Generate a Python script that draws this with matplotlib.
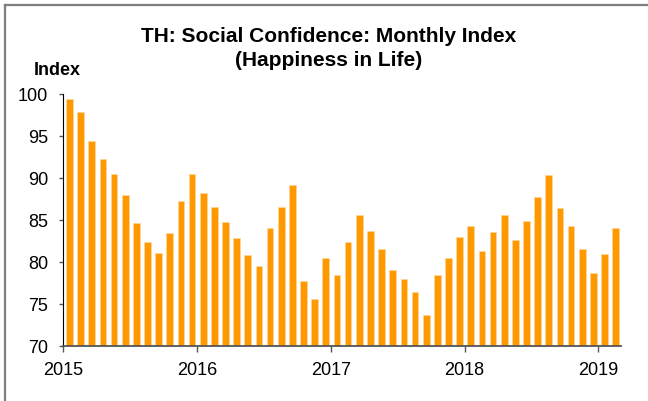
import matplotlib
matplotlib.use("Agg")
import matplotlib.pyplot as plt
from matplotlib.lines import Line2D
import numpy as np

plt.rcParams['font.family'] = ['Liberation Sans', 'DejaVu Sans']

years = ["2015", "2016", "2017", "2018", "2019"]
index_values = [
    99.4, 97.9, 94.4, 92.3, 90.5, 88.0, 84.6, 82.4, 81.1, 83.5, 87.3, 90.5,
    88.2, 86.5, 84.8, 82.9, 80.8, 79.5, 84.1, 86.5, 89.2, 77.7, 75.6, 80.5,
    78.5, 82.4, 85.6, 83.7, 81.6, 79.1, 78.0, 76.4, 73.7, 78.4, 80.5, 83.0,
    84.3, 81.3, 83.6, 85.6, 82.6, 84.9, 87.7, 90.3, 86.4, 84.3, 81.6, 78.7,
    81.0, 84.1,
]
y_ticks = [70, 75, 80, 85, 90, 95, 100]

fig = plt.figure(figsize=(6.48, 4.02), dpi=100)
ax = fig.add_axes([63.3 / 648, 1 - 347 / 402, (620.7 - 63.3) / 648, (347 - 95) / 402])

x = np.arange(len(index_values)) + 0.55
ax.bar(x, np.array(index_values) - 70, bottom=70, width=0.6, color='#FF9900',
       edgecolor='#FFD8A0', linewidth=0.4)

ax.set_xlim(0, len(index_values))
ax.set_ylim(70, 100)
ax.set_yticks(y_ticks)
ax.set_xticks([12 * i for i in range(len(years))])
ax.set_xticklabels(years)
ax.tick_params(axis='both', labelsize=13, labelcolor='#000000', width=1,
               direction='out')
ax.tick_params(axis='x', pad=7, length=4, color='#555555')
ax.tick_params(axis='y', pad=8, length=3, color='#555555')
for s in ['top', 'right']:
    ax.spines[s].set_visible(False)
ax.spines['left'].set_color('#000000')
ax.spines['bottom'].set_color('#555555')
ax.spines['bottom'].set_linewidth(1.3)

fig.text(329 / 648, 1 - 36 / 402, "TH: Social Confidence: Monthly Index",
         ha='center', va='center', fontsize=15, fontweight='bold')
fig.text(329 / 648, 1 - 61 / 402, "(Happiness in Life)",
         ha='center', va='center', fontsize=15, fontweight='bold')
fig.text(57.5 / 648, 1 - 70.5 / 402, "Index", ha='center', va='center',
         fontsize=13, fontweight='bold')

# figure frame (top and left edges)
fig.add_artist(Line2D([4.5 / 648, 4.5 / 648], [0, 1 - 5.5 / 402],
                      transform=fig.transFigure, color='#7f7f7f', lw=1.6))
fig.add_artist(Line2D([4.5 / 648, 1], [1 - 5.5 / 402, 1 - 5.5 / 402],
                      transform=fig.transFigure, color='#7f7f7f', lw=1.6))

fig.savefig("out.png", dpi=100)
